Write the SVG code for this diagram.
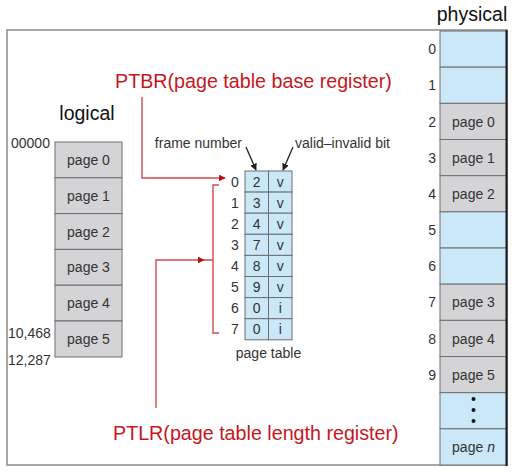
<svg xmlns="http://www.w3.org/2000/svg" width="517" height="473" viewBox="0 0 517 473">
<style>
text{font-family:"Liberation Sans",Arial,sans-serif;fill:#333}
.lbl{font-size:14px}
.mid{text-anchor:middle}
.end{text-anchor:end}
.big{font-size:19.5px;fill:#111}
.red{font-size:19.7px;fill:#c8161d}
.gray{fill:#d4d4d6;stroke:#6e6e6e;stroke-width:1}
.blue{fill:#cbe8f9;stroke:#6e6e6e;stroke-width:1}
.rl{fill:none;stroke:#d24a4a;stroke-width:1.4}
.bl{fill:none;stroke:#222;stroke-width:1.3}
</style>
<defs>
<marker id="ra" viewBox="0 0 10 10" refX="9" refY="5" markerWidth="7" markerHeight="7" markerUnits="userSpaceOnUse" orient="auto"><path d="M0,0L10,5L0,10z" fill="#b81010"/></marker>
<marker id="ba" viewBox="0 0 10 10" refX="9" refY="5" markerWidth="7" markerHeight="7" markerUnits="userSpaceOnUse" orient="auto"><path d="M0,0L10,5L0,10z" fill="#222"/></marker>
</defs>
<rect x="7" y="30" width="500" height="435" fill="#fff" stroke="#8a8a8a" stroke-width="1.5"/>
<text class="big mid" x="472" y="21">physical</text>
<text class="big mid" x="87" y="120">logical</text>

<g id="logical">
<rect class="gray" x="55" y="142" width="67" height="35.8"/>
<rect class="gray" x="55" y="177.8" width="67" height="35.8"/>
<rect class="gray" x="55" y="213.6" width="67" height="35.8"/>
<rect class="gray" x="55" y="249.4" width="67" height="35.8"/>
<rect class="gray" x="55" y="285.2" width="67" height="35.8"/>
<rect class="gray" x="55" y="321" width="67" height="36"/>
<text class="lbl mid" x="88.5" y="165">page 0</text>
<text class="lbl mid" x="88.5" y="200.8">page 1</text>
<text class="lbl mid" x="88.5" y="236.6">page 2</text>
<text class="lbl mid" x="88.5" y="272.4">page 3</text>
<text class="lbl mid" x="88.5" y="308.2">page 4</text>
<text class="lbl mid" x="88.5" y="344">page 5</text>
<text class="lbl" x="11" y="148">00000</text>
<text class="lbl" x="8" y="338">10,468</text>
<text class="lbl" x="8" y="365">12,287</text>
</g>

<g id="pagetable">
<rect class="blue" x="245" y="171" width="23.5" height="21.1"/>
<rect class="blue" x="268.5" y="171" width="23.5" height="21.1"/>
<rect class="blue" x="245" y="192.1" width="23.5" height="21.1"/>
<rect class="blue" x="268.5" y="192.1" width="23.5" height="21.1"/>
<rect class="blue" x="245" y="213.2" width="23.5" height="21.1"/>
<rect class="blue" x="268.5" y="213.2" width="23.5" height="21.1"/>
<rect class="blue" x="245" y="234.3" width="23.5" height="21.1"/>
<rect class="blue" x="268.5" y="234.3" width="23.5" height="21.1"/>
<rect class="blue" x="245" y="255.4" width="23.5" height="21.1"/>
<rect class="blue" x="268.5" y="255.4" width="23.5" height="21.1"/>
<rect class="blue" x="245" y="276.5" width="23.5" height="21.1"/>
<rect class="blue" x="268.5" y="276.5" width="23.5" height="21.1"/>
<rect class="blue" x="245" y="297.6" width="23.5" height="21.1"/>
<rect class="blue" x="268.5" y="297.6" width="23.5" height="21.1"/>
<rect class="blue" x="245" y="318.7" width="23.5" height="21.1"/>
<rect class="blue" x="268.5" y="318.7" width="23.5" height="21.1"/>
<g class="lbl">
<text class="lbl mid" x="235" y="187">0</text><text class="lbl mid" x="256.7" y="187">2</text><text class="lbl mid" x="280.2" y="187">v</text>
<text class="lbl mid" x="235" y="208">1</text><text class="lbl mid" x="256.7" y="208">3</text><text class="lbl mid" x="280.2" y="208">v</text>
<text class="lbl mid" x="235" y="229">2</text><text class="lbl mid" x="256.7" y="229">4</text><text class="lbl mid" x="280.2" y="229">v</text>
<text class="lbl mid" x="235" y="250">3</text><text class="lbl mid" x="256.7" y="250">7</text><text class="lbl mid" x="280.2" y="250">v</text>
<text class="lbl mid" x="235" y="271">4</text><text class="lbl mid" x="256.7" y="271">8</text><text class="lbl mid" x="280.2" y="271">v</text>
<text class="lbl mid" x="235" y="292">5</text><text class="lbl mid" x="256.7" y="292">9</text><text class="lbl mid" x="280.2" y="292">v</text>
<text class="lbl mid" x="235" y="313">6</text><text class="lbl mid" x="256.7" y="313">0</text><text class="lbl mid" x="280.2" y="313">i</text>
<text class="lbl mid" x="235" y="334">7</text><text class="lbl mid" x="256.7" y="334">0</text><text class="lbl mid" x="280.2" y="334">i</text>
</g>
<text class="lbl mid" x="268.5" y="358">page table</text>
<text class="lbl end" x="242" y="148">frame number</text>
<text class="lbl" x="295" y="148">valid–invalid bit</text>
</g>

<g id="physical">
<rect class="blue" x="440" y="31" width="67" height="36.17"/>
<rect class="blue" x="440" y="67.17" width="67" height="36.17"/>
<rect class="gray" x="440" y="103.34" width="67" height="36.17"/>
<rect class="gray" x="440" y="139.51" width="67" height="36.17"/>
<rect class="gray" x="440" y="175.68" width="67" height="36.17"/>
<rect class="blue" x="440" y="211.85" width="67" height="36.17"/>
<rect class="blue" x="440" y="248.02" width="67" height="36.17"/>
<rect class="gray" x="440" y="284.19" width="67" height="36.17"/>
<rect class="gray" x="440" y="320.36" width="67" height="36.17"/>
<rect class="gray" x="440" y="356.53" width="67" height="36.17"/>
<rect class="blue" x="440" y="392.7" width="67" height="36.17"/>
<rect class="blue" x="440" y="428.87" width="67" height="36.13"/>
<line x1="506.5" y1="30" x2="506.5" y2="466" stroke="#1a1a1a" stroke-width="2"/>
<text class="lbl mid" x="473.5" y="126.5">page 0</text>
<text class="lbl mid" x="473.5" y="162.7">page 1</text>
<text class="lbl mid" x="473.5" y="198.8">page 2</text>
<text class="lbl mid" x="473.5" y="307.3">page 3</text>
<text class="lbl mid" x="473.5" y="343.5">page 4</text>
<text class="lbl mid" x="473.5" y="379.6">page 5</text>
<text class="lbl mid" x="473.5" y="452">page <tspan font-style="italic">n</tspan></text>
<circle cx="473.5" cy="399" r="2" fill="#111"/>
<circle cx="473.5" cy="410" r="2" fill="#111"/>
<circle cx="473.5" cy="421" r="2" fill="#111"/>
<text class="lbl end" x="436" y="54">0</text>
<text class="lbl end" x="436" y="90.3">1</text>
<text class="lbl end" x="436" y="126.5">2</text>
<text class="lbl end" x="436" y="162.7">3</text>
<text class="lbl end" x="436" y="198.8">4</text>
<text class="lbl end" x="436" y="235">5</text>
<text class="lbl end" x="436" y="271.1">6</text>
<text class="lbl end" x="436" y="307.3">7</text>
<text class="lbl end" x="436" y="343.5">8</text>
<text class="lbl end" x="436" y="379.6">9</text>
</g>

<g id="ptbr">
<text class="red" x="115" y="88">PTBR(page table base register)</text>
</g>
<g id="ptlr">
<text class="red" x="113" y="440">PTLR(page table length register)</text>
</g>

<g id="connectors">
<path class="rl" d="M142,97V178H225" marker-end="url(#ra)"/>
<path class="rl" d="M156,408V260H204" marker-end="url(#ra)"/>
<path class="rl" d="M219,185H213V333H219M213,260H204"/>
<line class="bl" x1="246" y1="147" x2="256" y2="170" marker-end="url(#ba)"/>
<line class="bl" x1="293" y1="147" x2="283" y2="170" marker-end="url(#ba)"/>
</g>
</svg>
